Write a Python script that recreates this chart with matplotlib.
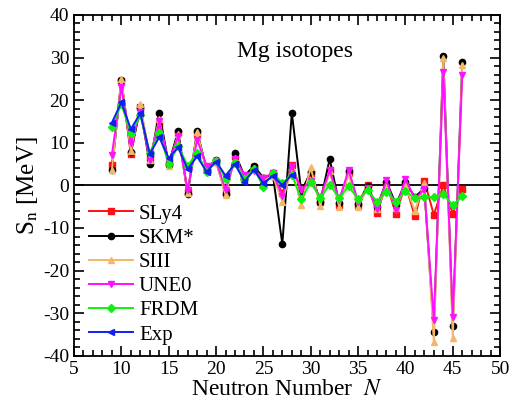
import matplotlib
matplotlib.use("Agg")
import matplotlib.pyplot as plt
from matplotlib.ticker import MultipleLocator

plt.rcParams['font.family'] = 'Liberation Serif'
plt.rcParams['mathtext.fontset'] = 'stix'
plt.rcParams['font.size'] = 14
plt.rcParams['axes.unicode_minus'] = False

n_model = list(range(9, 47))
n_exp = list(range(9, 29))

sly4 = [4.8, 24.5, 7.3, 18.5, 6.5, 14.5, 5.0, 12.2, -1.5, 12.0,
        4.0, 5.6, -1.5, 6.8, 1.8, 4.2, 1.8, 2.8, -1.8, 4.8,
        -1.5, 3.0, -3.8, 3.5, -4.5, 3.0, -4.5, 0.2, -6.5, 0.3,
        -6.6, 0.2, -7.3, 1.1, -6.9, 0.0, -6.6, -0.8]
skm = [3.5, 24.7, 7.9, 18.1, 5.0, 17.1, 5.0, 12.8, -2.1, 12.8,
       3.6, 5.9, -2.0, 7.5, 2.2, 4.6, 1.7, 2.5, -13.8, 17.0,
       -1.5, 3.2, -3.9, 6.2, -4.2, 3.3, -4.3, -0.2, -5.0, 0.9,
       -4.5, 0.7, -2.7, -0.7, -34.3, 30.4, -33.0, 28.9]
siii = [3.6, 24.9, 8.0, 19.1, 6.0, 15.5, 4.6, 12.0, -1.8, 12.5,
        3.5, 5.5, -2.2, 6.5, 1.5, 4.0, 1.2, 2.2, -3.8, 4.0,
        -4.5, 4.2, -4.8, 3.3, -5.0, 2.6, -5.0, -0.6, -5.5, -0.1,
        -5.3, 0.0, -6.0, 0.6, -36.7, 29.8, -35.8, 28.2]
une0 = [7.2, 23.0, 10.0, 17.3, 6.0, 15.0, 5.3, 11.5, -1.1, 10.7,
        4.6, 5.7, -1.0, 6.2, 2.5, 3.4, 1.7, 2.8, -2.5, 4.6,
        -1.0, 1.0, -2.8, 3.5, -3.4, 3.6, -3.9, -0.6, -5.5, 1.2,
        -5.8, 1.6, -3.2, -0.9, -31.7, 26.7, -30.9, 25.8]
frdm = [13.8, 19.1, 12.2, 16.5, 7.6, 12.2, 5.0, 9.3, 4.6, 7.6,
        3.2, 5.7, 1.5, 5.2, 1.4, 3.9, -0.3, 2.9, 0.5, 2.5,
        -3.2, 0.7, -3.0, 0.2, -3.0, -0.2, -3.2, -1.2, -3.8, -1.5,
        -3.8, -1.3, -3.0, -2.7, -2.7, -2.1, -4.6, -2.6]
exp = [14.7, 19.5, 13.2, 16.9, 7.4, 11.3, 6.4, 8.9, 3.8, 6.8,
       3.2, 5.6, 2.3, 5.0, 0.9, 3.6, 0.5, 2.2, 0.1, 2.5]

fig = plt.figure(figsize=(5.14, 4.03), dpi=100)
ax = fig.add_axes([0.144, 0.117, 0.829, 0.846])

ax.axhline(0, color='black', lw=1.3, zorder=1)
ax.plot(n_model, sly4, '-s', color='#ff1010', ms=4.5, lw=1.4, label='SLy4')
ax.plot(n_model, skm, '-o', color='black', ms=4.5, lw=1.4, label='SKM*')
ax.plot(n_model, siii, '-^', color='#f2b86a', ms=5, lw=1.4, label='SIII')
ax.plot(n_model, une0, '-v', color='#ff10ff', ms=5, lw=1.4, label='UNE0')
ax.plot(n_model, frdm, '-D', color='#10f010', ms=4, lw=1.4, label='FRDM')
ax.plot(n_exp, exp, '-<', color='#1020f0', ms=5, lw=1.4, label='Exp')

ax.set_xlim(5, 50)
ax.set_ylim(-40, 40)
ax.xaxis.set_major_locator(MultipleLocator(5))
ax.xaxis.set_minor_locator(MultipleLocator(1))
ax.yaxis.set_major_locator(MultipleLocator(10))
ax.yaxis.set_minor_locator(MultipleLocator(2))
ax.tick_params(which='both', direction='in', top=True, right=True, width=1.2)
ax.tick_params(which='major', length=7)
ax.tick_params(which='minor', length=4)
for s in ax.spines.values():
    s.set_linewidth(1.3)

ax.set_xlabel('Neutron Number  $N$', fontsize=17, labelpad=1)
ax.set_ylabel('S$_{\\mathrm{n}}$ [MeV]', fontsize=18, labelpad=2)
ax.text(28.3, 31.3, 'Mg isotopes', fontsize=17, ha='center', va='center')

ax.legend(loc='upper left', bbox_to_anchor=(0.035, 0.445), frameon=False,
          fontsize=15, handlelength=2.1, handletextpad=0.3,
          labelspacing=0.22, borderpad=0, borderaxespad=0)

fig.savefig('out.png', dpi=100)
